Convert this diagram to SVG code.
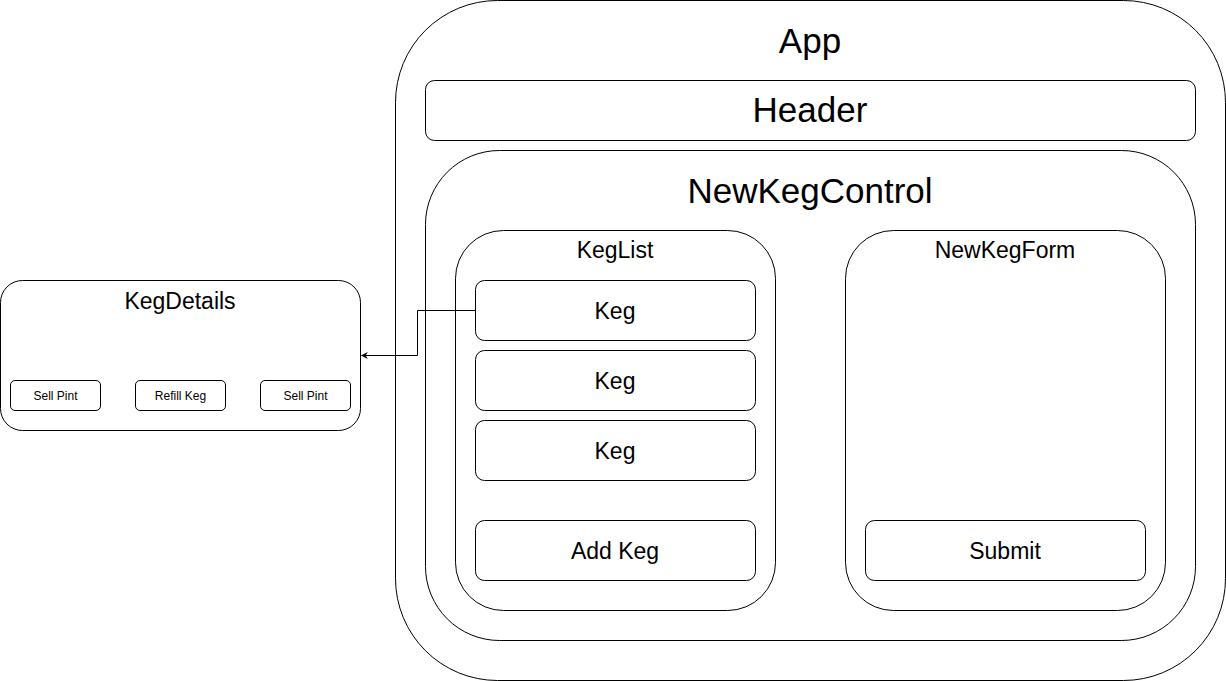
<svg xmlns="http://www.w3.org/2000/svg" width="1226" height="681" viewBox="0 0 1226 681">
<style>
.box{fill:#fff;stroke:#000;stroke-width:1}
.t{font-family:"Liberation Sans",Arial,sans-serif;fill:#000;text-anchor:middle}
.xl{font-size:35px}
.md{font-size:23px}
.sm{font-size:12px}
.conn{fill:none;stroke:#000;stroke-width:1}
</style>
<defs>
<marker id="arr" viewBox="0 0 10 10" refX="9" refY="5" markerWidth="7" markerHeight="7" markerUnits="userSpaceOnUse" orient="auto">
<path d="M0,0 L10,5 L0,10 L3,5 Z" fill="#000"/>
</marker>
</defs>
<rect width="1226" height="681" fill="#fff"/>
<g id="app">
<rect class="box" x="395.5" y="0.5" width="830" height="680" rx="102" ry="102"/>
<text class="t xl" x="810" y="53">App</text>
</g>
<g id="header">
<rect class="box" x="425.5" y="80.5" width="770" height="60" rx="9" ry="9"/>
<text class="t xl" x="810" y="122">Header</text>
</g>
<g id="newkegcontrol">
<rect class="box" x="425.5" y="150.5" width="770" height="490" rx="74" ry="74"/>
<text class="t xl" x="810" y="203">NewKegControl</text>
</g>
<g id="keglist">
<rect class="box" x="455.5" y="230.5" width="320" height="380" rx="48" ry="48"/>
<text class="t md" x="615" y="258">KegList</text>
</g>
<g id="keg1">
<rect class="box" x="475.5" y="280.5" width="280" height="60" rx="9" ry="9"/>
<text class="t md" x="615" y="319">Keg</text>
</g>
<g id="keg2">
<rect class="box" x="475.5" y="350.5" width="280" height="60" rx="9" ry="9"/>
<text class="t md" x="615" y="389">Keg</text>
</g>
<g id="keg3">
<rect class="box" x="475.5" y="420.5" width="280" height="60" rx="9" ry="9"/>
<text class="t md" x="615" y="459">Keg</text>
</g>
<g id="addkeg">
<rect class="box" x="475.5" y="520.5" width="280" height="60" rx="9" ry="9"/>
<text class="t md" x="615" y="559">Add Keg</text>
</g>
<g id="newkegform">
<rect class="box" x="845.5" y="230.5" width="320" height="380" rx="48" ry="48"/>
<text class="t md" x="1005" y="258">NewKegForm</text>
</g>
<g id="submit">
<rect class="box" x="865.5" y="520.5" width="280" height="60" rx="9" ry="9"/>
<text class="t md" x="1005" y="559">Submit</text>
</g>
<g id="kegdetails">
<rect class="box" x="0.5" y="280.5" width="360" height="150" rx="22" ry="22"/>
<text class="t md" x="180" y="309">KegDetails</text>
</g>
<g id="sellpint1">
<rect class="box" x="10.5" y="380.5" width="90" height="30" rx="4.5" ry="4.5"/>
<text class="t sm" x="55.5" y="400">Sell Pint</text>
</g>
<g id="refillkeg">
<rect class="box" x="135.5" y="380.5" width="90" height="30" rx="4.5" ry="4.5"/>
<text class="t sm" x="180.5" y="400">Refill Keg</text>
</g>
<g id="sellpint2">
<rect class="box" x="260.5" y="380.5" width="90" height="30" rx="4.5" ry="4.5"/>
<text class="t sm" x="305.5" y="400">Sell Pint</text>
</g>
<g id="connectors">
<path class="conn" d="M475.5,310.5 H417.5 V355.5 H361.5" marker-end="url(#arr)"/>
</g>
</svg>
